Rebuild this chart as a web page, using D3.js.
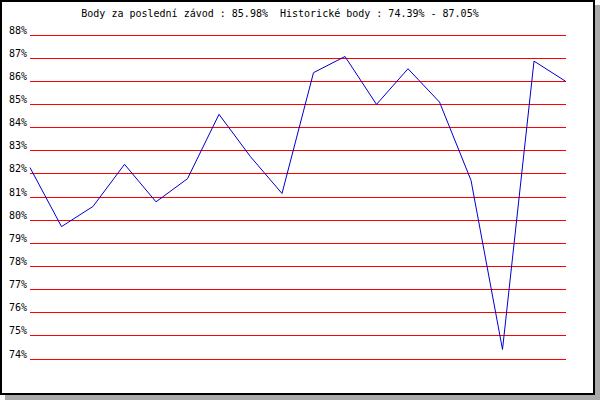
<!DOCTYPE html>
<html>
<head>
<meta charset="utf-8">
<script src="https://cdn.jsdelivr.net/npm/d3@7"></script>
<style>
html,body{margin:0;padding:0;background:#fff;}
svg{display:block;}
text{font-family:"DejaVu Sans Mono","Liberation Mono",monospace;font-size:10px;fill:#000;white-space:pre;}
</style>
</head>
<body>
<svg id="chart" width="600" height="400"></svg>
<script>
const title = "Body za poslední závod : 85.98%  Historické body : 74.39% - 87.05%";
const races = d3.range(1, 19);
const points = [82.25, 79.70, 80.57, 82.39, 80.77, 81.77, 84.55, 82.72, 81.13, 86.35, 87.05, 84.98, 86.52, 85.08, 81.70, 74.39, 86.85, 85.98];
const yTicks = [74, 75, 76, 77, 78, 79, 80, 81, 82, 83, 84, 85, 86, 87, 88];

const svg = d3.select("#chart");
// shadow + frame
svg.append("rect").attr("x",5).attr("y",5).attr("width",595).attr("height",395).attr("fill","#aaaaaa");
svg.append("rect").attr("x",1).attr("y",1).attr("width",593).attr("height",393)
  .attr("fill","#fff").attr("stroke","#000").attr("stroke-width",2);

const x = d3.scaleLinear().domain([1, races.length]).range([30, 565.5]);
const y = d3.scaleLinear().domain([74, 88]).range([358.5, 34.5]);

// gridlines
svg.append("g").selectAll("line").data(yTicks).join("line")
  .attr("x1",30).attr("x2",566)
  .attr("y1",d=>Math.round(y(d))+0.5).attr("y2",d=>Math.round(y(d))+0.5)
  .attr("stroke","#ff0000").attr("stroke-width",1);

// y labels
svg.append("g").selectAll("text").data(yTicks).join("text")
  .attr("x",27).attr("y",d=>Math.round(y(d))-1)
  .attr("text-anchor","end")
  .text(d=>d+"%");

// line
svg.append("path").datum(points)
  .attr("fill","none").attr("stroke","#0000cc").attr("stroke-width",1)
  .attr("d", d3.line().x((d,i)=>x(races[i])).y(d=>y(d)));

// title
svg.append("text").attr("x",280).attr("y",17).attr("text-anchor","middle")
  .attr("xml:space","preserve").text(title);
</script>
</body>
</html>
